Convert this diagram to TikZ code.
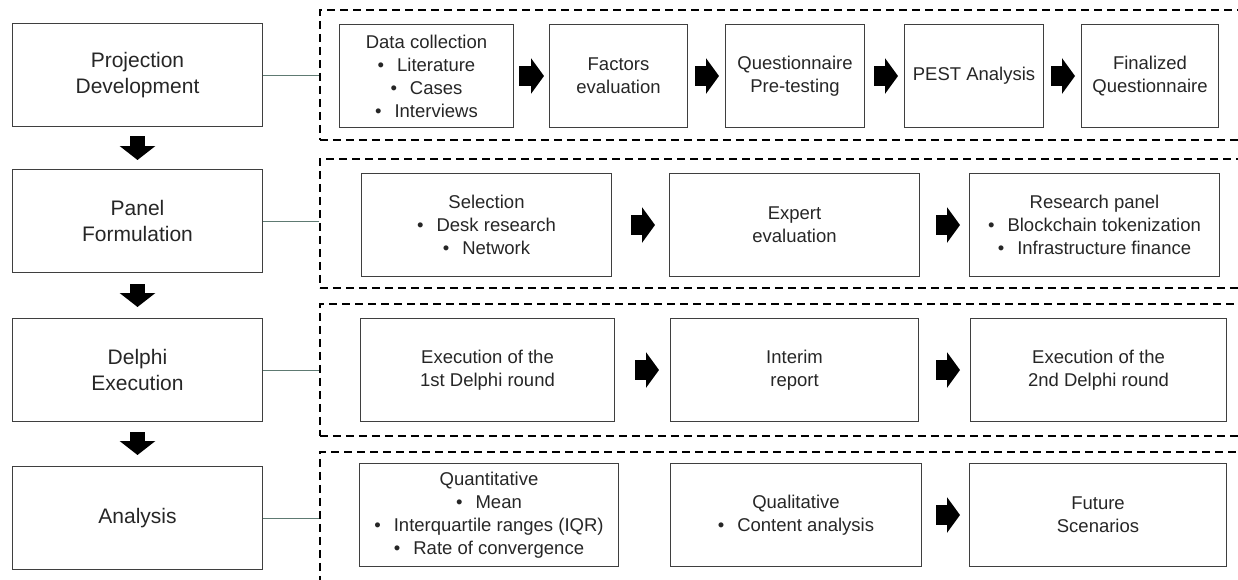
\documentclass[tikz,border=0pt]{standalone}
\usepackage{fontspec}
\setmainfont{Liberation Sans}
\usetikzlibrary{positioning,arrows.meta}
\definecolor{boxline}{HTML}{3F3F3F}
\definecolor{ink}{HTML}{262626}
\definecolor{linkgray}{HTML}{5E7A72}
\tikzset{
  Stage/.style={draw=boxline, line width=1pt, rectangle, minimum width=250pt, minimum height=103pt,
    inner sep=0pt, align=center, text=ink, font=\fontsize{21}{26}\selectfont},
  StepBox/.style={draw=boxline, line width=1pt, rectangle, minimum height=103pt,
    inner sep=0pt, align=center, text=ink, font=\fontsize{18.5}{23}\selectfont},
  Frame/.style={draw=black, line width=1.8pt, dash pattern=on 8pt off 5pt, minimum width=950pt,
    anchor=north west, inner sep=0pt},
  Link/.style={draw=linkgray, line width=0.8pt},
  Flow/.style 2 args={line width=20pt, -{Triangle[length=13pt,width=35pt]}, shorten <=#1, shorten >=#2},
  Drop/.style 2 args={line width=15pt, -{Triangle[length=14pt,width=35pt]}, shorten <=#1, shorten >=#2}
}
\newcommand{\itm}{\textbullet\hspace{0.7em}}

\begin{document}
\begin{tikzpicture}[x=1pt, y=-1pt]
    \useasboundingbox (0,0) rectangle (1238,579);
    \clip (0,0) rectangle (1238,579);
    % stages
    \node[Stage, anchor=north west] (proj)   at (12,23) {Projection\\Development};
    \node[Stage] (panel)  [below=42pt of proj]   {Panel\\Formulation};
    \node[Stage] (delphi) [below=45pt of panel]  {Delphi\\Execution};
    \node[Stage] (anal)   [below=44pt of delphi] {Analysis};
    \draw[Drop={9pt}{9pt}]   (proj)   -- (panel);
    \draw[Drop={11pt}{11pt}] (panel)  -- (delphi);
    \draw[Drop={10pt}{11pt}] (delphi) -- (anal);
    % frames
    \node[Frame, minimum height=130pt] (pframe) at (319,9)   {};
    \node[Frame, minimum height=129pt] (fframe) at (319,158) {};
    \node[Frame, minimum height=132pt] (dframe) at (319,303) {};
    \node[Frame, minimum height=160pt] (aframe) at (319,451) {};
    \draw[Link] (proj.east)   -- (proj.east -| pframe.west);
    \draw[Link] (panel.east)  -- (panel.east -| fframe.west);
    \draw[Link] (delphi.east) -- (delphi.east -| dframe.west);
    \draw[Link] (anal.east)   -- (anal.east -| aframe.west);
    % projection development
    \node[StepBox, minimum width=174pt, anchor=north west] (datacoll) at (339,24)
      {Data collection\\\itm Literature\\\itm Cases\\\itm Interviews};
    \node[StepBox, minimum width=138pt] (factors) [right=35pt of datacoll] {Factors\\evaluation};
    \node[StepBox, minimum width=139pt] (pretest) [right=37pt of factors]  {Questionnaire\\Pre-testing};
    \node[StepBox, minimum width=139pt] (pest)    [right=39pt of pretest]  {PEST Analysis};
    \node[StepBox, minimum width=137pt] (final)   [right=37pt of pest]     {Finalized\\Questionnaire};
    \draw[Flow={5pt}{5pt}] (datacoll) -- (factors);
    \draw[Flow={7pt}{6pt}] (factors)  -- (pretest);
    \draw[Flow={9pt}{6pt}] (pretest)  -- (pest);
    \draw[Flow={7pt}{6pt}] (pest)     -- (final);
    % panel formulation
    \node[StepBox, minimum width=250pt, anchor=north west] (select) at (361,173)
      {Selection\\\itm Desk research\\\itm Network};
    \node[StepBox, minimum width=250pt] (experts) [right=57pt of select]  {Expert\\evaluation};
    \node[StepBox, minimum width=250pt] (respanel) [right=49pt of experts]
      {Research panel\\\itm Blockchain tokenization\\\itm Infrastructure finance};
    \draw[Flow={19pt}{14pt}] (select)  -- (experts);
    \draw[Flow={16pt}{9pt}]  (experts) -- (respanel);
    % delphi execution
    \node[StepBox, minimum width=254pt, anchor=north west] (round1) at (360,318)
      {Execution of the\\1st Delphi round};
    \node[StepBox, minimum width=248pt] (interim) [right=55pt of round1]  {Interim\\report};
    \node[StepBox, minimum width=256pt] (round2)  [right=51pt of interim] {Execution of the\\2nd Delphi round};
    \draw[Flow={20pt}{11pt}] (round1)  -- (interim);
    \draw[Flow={17pt}{10pt}] (interim) -- (round2);
    % analysis
    \node[StepBox, minimum width=259pt, anchor=north west] (quant) at (359,463)
      {Quantitative\\\itm Mean\\\itm Interquartile ranges (IQR)\\\itm Rate of convergence};
    \node[StepBox, minimum width=251pt] (qual)    [right=51pt of quant] {Qualitative\\\itm Content analysis};
    \node[StepBox, minimum width=257pt] (futures) [right=47pt of qual]  {Future\\Scenarios};
    \draw[Flow={14pt}{9pt}] (qual) -- (futures);
\end{tikzpicture}
\end{document}
